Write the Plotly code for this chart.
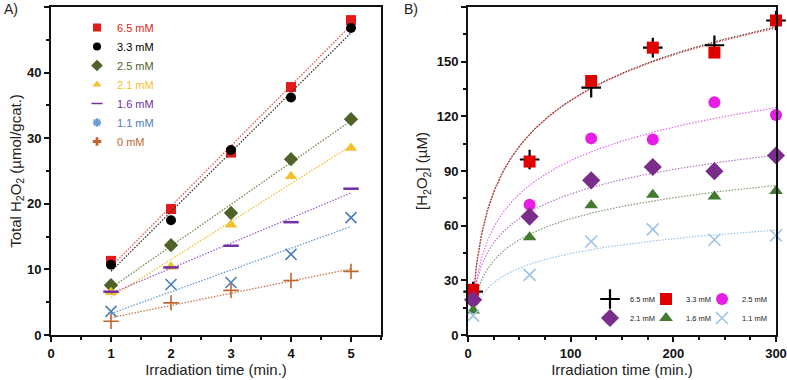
import numpy as np
import plotly.graph_objects as go

# ---------------- Data: panel A ----------------
time_a = [1, 2, 3, 4, 5]
a_names = ["6.5 mM", "3.3 mM", "2.5 mM", "2.1 mM", "1.6 mM", "1.1 mM", "0 mM"]
a_65 = [11.3, 19.2, 27.8, 37.8, 48.0]
a_33 = [10.7, 17.5, 28.2, 36.2, 46.8]
a_25 = [7.6, 13.7, 18.6, 26.8, 32.9]
a_21 = [6.5, 10.4, 16.8, 24.2, 28.5]
a_16 = [6.6, 10.3, 13.6, 17.2, 22.3]
a_11 = [3.6, 7.7, 8.0, 12.3, 17.9]
a_00 = [2.1, 4.9, 6.8, 8.3, 9.7]

# ---------------- Data: panel B ----------------
time_b = [5, 60, 120, 180, 240, 300]
b_names = ["6.5 mM", "3.3 mM", "2.5 mM", "2.1 mM", "1.6 mM", "1.1 mM"]
b_65 = [23.8, 96.3, 135.7, 157.7, 159.0, 172.6]
b_33 = [24.8, 95.2, 139.4, 157.7, 155.0, 172.6]
b_25 = [19.0, 71.5, 107.9, 107.3, 127.7, 120.7]
b_21 = [19.3, 65.0, 84.9, 92.2, 89.9, 98.5]
b_16 = [13.4, 53.7, 71.2, 77.0, 76.0, 79.0]
b_11 = [10.6, 33.0, 51.3, 58.0, 52.3, 54.6]

FONT = "Liberation Sans, Arial, sans-serif"
W, H = 787, 380
MT, MB = 7, 45
PH = H - MT - MB

def px_x(p):
    return p / W

def px_y(p):
    return (H - MB - p) / PH

fig = go.Figure()

DOT = "1.5px,1.5px"

# ---------------- Panel A ----------------
a_series = [
    (a_names[0], a_65, dict(symbol="square", size=10, color="#E41A1A"), "#F05050", "#E41A1A",
     dict(symbol="square", size=8, color="#E41A1A")),
    (a_names[1], a_33, dict(symbol="circle", size=10, color="#000000"), "#333333", "#000000",
     dict(symbol="circle", size=8, color="#000000")),
    (a_names[2], a_25, dict(symbol="diamond", size=11, color="#4F6228"), "#6E8B4A", "#4F6228",
     dict(symbol="diamond", size=9, color="#4F6228")),
    (a_names[3], a_21, dict(symbol="triangle-up", size=11, color="#F2C12E"), "#F2C12E", "#F2C12E",
     dict(symbol="triangle-up", size=8, color="#F2C12E")),
    (a_names[4], a_16, dict(symbol="line-ew", size=11, color="#7030A0", line=dict(width=2.5, color="#7030A0")),
     "#A060C8", "#7030A0",
     dict(symbol="line-ew", size=8, color="#7030A0", line=dict(width=1.5, color="#7030A0"))),
    (a_names[5], a_11, dict(symbol="x-thin", size=11, color="#4A7EBB", line=dict(width=1.6, color="#4A7EBB")),
     "#6A9BD1", "#4A7EBB",
     dict(symbol="asterisk", size=7, color="#6A9BD1", line=dict(width=2, color="#6A9BD1"))),
    (a_names[6], a_00, dict(symbol="cross-thin", size=11, color="#C0652F", line=dict(width=1.6, color="#C0652F")),
     "#C87A4A", "#C0652F",
     dict(symbol="cross", size=7, color="#C0652F")),
]

xa = np.array(time_a, dtype=float)
for name, vals, mk, lc, tc, lmk in a_series:
    k, b = np.polyfit(xa, np.array(vals, dtype=float), 1)
    fig.add_trace(go.Scatter(x=time_a, y=list(k * xa + b), mode="lines",
                             line=dict(color=lc, width=1.3, dash=DOT),
                             showlegend=False, xaxis="x", yaxis="y", hoverinfo="skip"))
    fig.add_trace(go.Scatter(x=time_a, y=vals, mode="markers", marker=mk,
                             showlegend=False, xaxis="x", yaxis="y", name=name))
    # legend-only entry
    fig.add_trace(go.Scatter(x=[None], y=[None], mode="markers", marker=lmk,
                             name=f'<span style="color:{tc}">{name}</span>',
                             legend="legend", xaxis="x", yaxis="y"))

# ---------------- Panel B ----------------
b_series = [
    (b_names[0], b_65, dict(symbol="cross-thin", size=14, color="#000000", line=dict(width=2.2, color="#000000")),
     "#444444", "legend2"),
    (b_names[1], b_33, dict(symbol="square", size=12, color="#E00000"), "#F04040", "legend2"),
    (b_names[2], b_25, dict(symbol="circle", size=12, color="#E61EE6"), "#E36BE3", "legend2"),
    (b_names[3], b_21, dict(symbol="diamond", size=14, color="#7A2D8A"), "#B278C0", "legend3"),
    (b_names[4], b_16, dict(symbol="triangle-up", size=12, color="#437A30"), "#7E9C70", "legend3"),
    (b_names[5], b_11, dict(symbol="x-thin", size=12, color="#9DC3E6", line=dict(width=1.6, color="#9DC3E6")),
     "#9DC3E6", "legend3"),
]

xb = np.array(time_b, dtype=float)
xfit = np.linspace(5, 300, 300)
for name, vals, mk, lc, lg in b_series:
    k, b = np.polyfit(np.log(xb), np.array(vals, dtype=float), 1)
    fig.add_trace(go.Scatter(x=list(xfit), y=list(k * np.log(xfit) + b), mode="lines",
                             line=dict(color=lc, width=1.2, dash=DOT),
                             showlegend=False, xaxis="x2", yaxis="y2", hoverinfo="skip"))
for name, vals, mk, lc, lg in b_series:
    fig.add_trace(go.Scatter(x=time_b, y=vals, mode="markers", marker=mk, name=name,
                             legend=lg, xaxis="x2", yaxis="y2", cliponaxis=False))
# invisible spacer entries so the last legend text in each row is not clipped
for lg in ["legend2", "legend3"]:
    fig.add_trace(go.Scatter(x=[None], y=[None], mode="markers", marker=dict(opacity=0, size=1),
                             name="\u00a0", legend=lg, xaxis="x2", yaxis="y2", hoverinfo="skip"))

tickfont = dict(family=FONT, size=13, color="#111111")
titlefont = dict(family=FONT, size=15, color="#222222")

common_x = dict(showgrid=False, zeroline=False, showline=True, linecolor="#111111", linewidth=2,
                mirror=True, ticks="outside", ticklen=5, tickwidth=1.5, tickcolor="#111111",
                tickfont=tickfont, title_font=titlefont, automargin=False,
                tickprefix="<b>", ticksuffix="</b>")

leg_b = dict(bgcolor="rgba(0,0,0,0)", font=dict(family=FONT, size=7.5, color="#222222"),
             orientation="h", itemwidth=30, entrywidth=11, entrywidthmode="pixels",
             xanchor="left", yanchor="middle")

fig.update_layout(
    width=W, height=H,
    margin=dict(l=0, r=0, t=MT, b=MB, autoexpand=False),
    paper_bgcolor="white", plot_bgcolor="white",
    font=dict(family=FONT),
    xaxis=dict(domain=[px_x(51), px_x(381)], range=[0, 5.5], dtick=1, tick0=0,
               minor=dict(dtick=0.5, ticks="outside", ticklen=3, tickcolor="#111111"),
               title=dict(text="Irradiation time (min.)", standoff=4), anchor="y", **common_x),
    yaxis=dict(domain=[0, 1], range=[0, 50], dtick=10, tick0=0,
               minor=dict(dtick=5, ticks="outside", ticklen=3, tickcolor="#111111"),
               title=dict(text="Total H<sub>2</sub>O<sub>2</sub> (µmol/gcat.)", standoff=2),
               anchor="x", **common_x),
    xaxis2=dict(domain=[px_x(468), px_x(776)], range=[0, 300], dtick=100, tick0=0,
                minor=dict(dtick=25, ticks="outside", ticklen=3, tickcolor="#111111"),
                title=dict(text="Irradiation time (min.)", standoff=4), anchor="y2", **common_x),
    yaxis2=dict(domain=[0, 1], range=[0, 180], dtick=30, tick0=0,
                minor=dict(dtick=15, ticks="outside", ticklen=3, tickcolor="#111111"),
                title=dict(text="[H<sub>2</sub>O<sub>2</sub>] (µM)", standoff=5),
                anchor="x2", **common_x),
    legend=dict(x=px_x(77), y=px_y(13), xanchor="left", yanchor="top",
                bgcolor="rgba(0,0,0,0)", font=dict(family=FONT, size=11),
                itemwidth=30, tracegroupgap=0, orientation="v"),
    legend2=dict(x=px_x(590), y=px_y(299), **leg_b),
    legend3=dict(x=px_x(590), y=px_y(318), **leg_b),
    annotations=[
        dict(text="A)", x=px_x(2), y=px_y(9), xref="paper", yref="paper", xanchor="left",
             yanchor="middle", showarrow=False, font=dict(family=FONT, size=14, color="#222222")),
        dict(text="B)", x=px_x(402), y=px_y(9), xref="paper", yref="paper", xanchor="left",
             yanchor="middle", showarrow=False, font=dict(family=FONT, size=14, color="#222222")),
    ],
)

fig.write_html("out.html")
